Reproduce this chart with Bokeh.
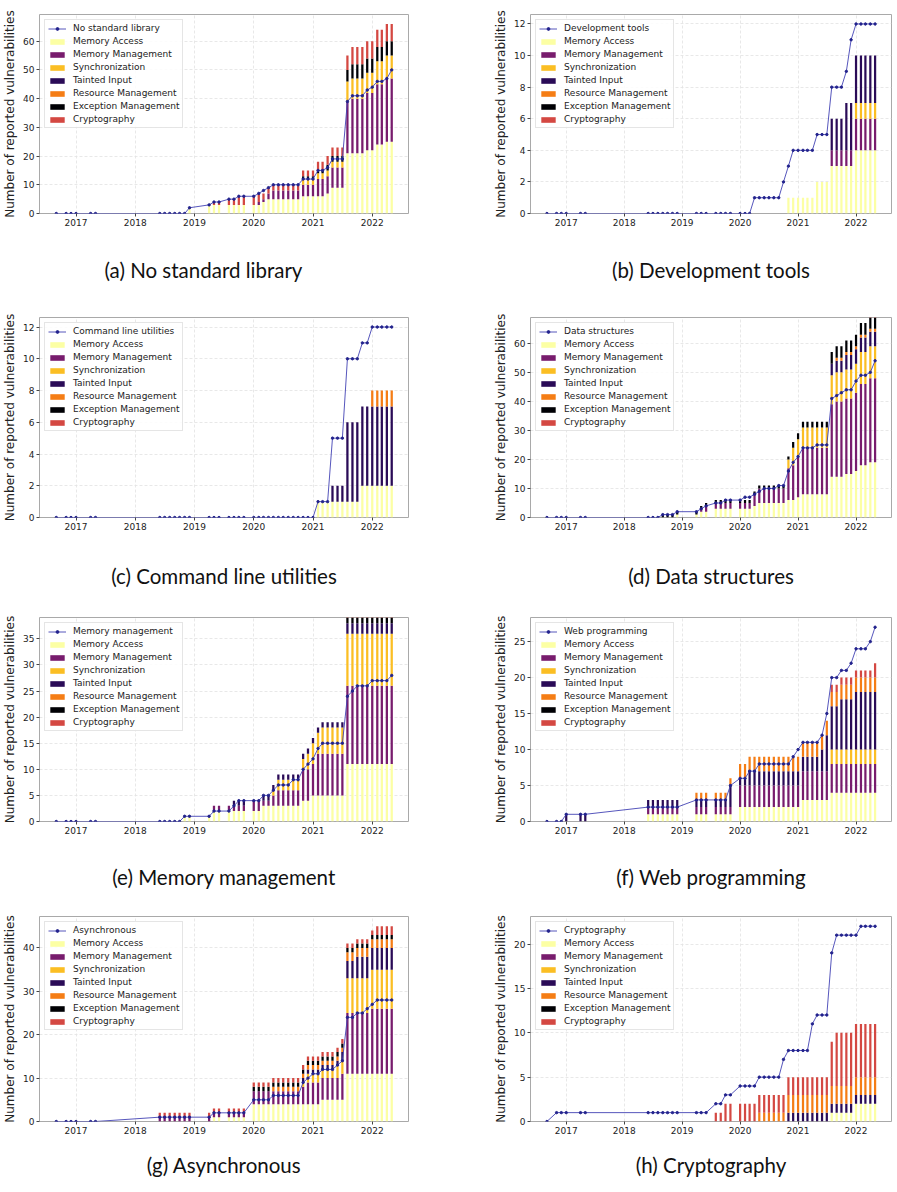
import pandas as pd
from bokeh.plotting import figure
from bokeh.layouts import column, row
from bokeh.models import (Range1d, FixedTicker, SingleIntervalTicker, Legend,
                          LegendItem, ColumnDataSource)
from bokeh.embed import file_html
from bokeh.resources import INLINE

# ---------------- data ----------------
DATES = ["2016-09", "2016-11", "2016-12", "2017-01", "2017-04", "2017-05",
         "2018-06", "2018-07", "2018-08", "2018-09", "2018-10", "2018-11", "2018-12",
         "2019-04", "2019-05", "2019-06", "2019-08", "2019-09", "2019-10", "2019-11",
         "2020-01", "2020-02", "2020-03", "2020-04", "2020-05", "2020-06",
         "2020-07", "2020-08", "2020-09", "2020-10", "2020-11", "2020-12",
         "2021-01", "2021-02", "2021-03", "2021-04", "2021-05", "2021-06",
         "2021-07", "2021-08", "2021-09", "2021-10", "2021-11", "2021-12",
         "2022-01", "2022-02", "2022-03", "2022-04", "2022-05"]
YEAR_TICKS = [2017, 2018, 2019, 2020, 2021, 2022]
CATEGORIES = ["Memory Access", "Memory Management", "Synchronization", "Tainted Input",
              "Resource Management", "Exception Management", "Cryptography"]
COLORS = ["#fcffa4", "#781c6d", "#fbbe23", "#2a0b57", "#f57d15", "#000004", "#d44842"]

# (a) No standard library
A_LINE = [0, 0, 0, 0, 0, 0,  0, 0, 0, 0, 0, 0, 2,  3, 4, 4, 5, 5, 6, 6,
          6, 7, 8, 9, 10, 10, 10, 10, 10, 10, 12, 12,
          12, 15, 15, 16, 19, 19, 19, 39, 41, 41, 41, 43,  44, 46, 46, 47, 50]
A_MA = [0, 0, 0, 0, 0, 0,  0, 0, 0, 0, 0, 0, 2,  3, 3, 3, 3, 3, 3, 3,
        3, 3, 4, 5, 5, 5, 5, 5, 5, 5, 6, 6,
        6, 6, 6, 7, 9, 9, 9, 21, 21, 21, 21, 22,  22, 24, 24, 25, 25]
A_MM = [0, 0, 0, 0, 0, 0,  0, 0, 0, 0, 0, 0, 0,  0, 0, 0, 0, 0, 0, 0,
        0, 1, 1, 2, 3, 3, 3, 3, 3, 3, 4, 4,
        4, 6, 6, 6, 7, 7, 7, 18, 19, 19, 19, 20,  20, 21, 21, 22, 22]
A_SY = [0, 0, 0, 0, 0, 0,  0, 0, 0, 0, 0, 0, 0,  0, 0, 0, 0, 0, 0, 0,
        0, 0, 0, 0, 0, 0, 0, 0, 0, 0, 2, 2,
        2, 2, 2, 2, 2, 2, 2, 7, 7, 7, 7, 7,  7, 8, 8, 8, 8]
A_TI = [0, 0, 0, 0, 0, 0,  0, 0, 0, 0, 0, 0, 0,  0, 0, 0, 0, 0, 0, 0,
        0, 0, 0, 0, 0, 0, 0, 0, 0, 0, 0, 0,
        0, 0, 0, 0, 0, 0, 0, 0, 0, 0, 0, 0,  0, 0, 0, 0, 0]
A_RM = [0, 0, 0, 0, 0, 0,  0, 0, 0, 0, 0, 0, 0,  0, 0, 0, 0, 0, 0, 0,
        0, 0, 0, 0, 0, 0, 0, 0, 0, 0, 0, 0,
        0, 0, 0, 0, 0, 0, 0, 0, 0, 0, 0, 0,  0, 0, 0, 0, 0]
A_EX = [0, 0, 0, 0, 0, 0,  0, 0, 0, 0, 0, 0, 0,  0, 0, 0, 0, 0, 0, 0,
        0, 0, 0, 0, 0, 0, 0, 0, 0, 0, 1, 1,
        1, 1, 1, 2, 2, 2, 2, 4, 5, 5, 5, 5,  5, 5, 5, 5, 5]
A_CR = [0, 0, 0, 0, 0, 0,  0, 0, 0, 0, 0, 0, 0,  0, 1, 1, 2, 2, 3, 3,
        3, 3, 2, 2, 2, 2, 2, 2, 2, 2, 2, 2,
        2, 3, 3, 3, 3, 3, 3, 5, 6, 6, 6, 6,  6, 6, 6, 6, 6]

# (b) Development tools
B_LINE = [0, 0, 0, 0, 0, 0,  0, 0, 0, 0, 0, 0, 0,  0, 0, 0, 0, 0, 0, 0,
          0, 0, 0, 1, 1, 1, 1, 1, 1, 2, 3, 4,
          4, 4, 4, 4, 5, 5, 5, 8, 8, 8, 9, 11,  12, 12, 12, 12, 12]
B_MA = [0, 0, 0, 0, 0, 0,  0, 0, 0, 0, 0, 0, 0,  0, 0, 0, 0, 0, 0, 0,
        0, 0, 0, 0, 0, 0, 0, 0, 0, 0, 1, 1,
        1, 1, 1, 1, 2, 2, 2, 3, 3, 3, 3, 3,  4, 4, 4, 4, 4]
B_MM = [0, 0, 0, 0, 0, 0,  0, 0, 0, 0, 0, 0, 0,  0, 0, 0, 0, 0, 0, 0,
        0, 0, 0, 0, 0, 0, 0, 0, 0, 0, 0, 0,
        0, 0, 0, 0, 0, 0, 0, 1, 1, 1, 1, 1,  2, 2, 2, 2, 2]
B_SY = [0, 0, 0, 0, 0, 0,  0, 0, 0, 0, 0, 0, 0,  0, 0, 0, 0, 0, 0, 0,
        0, 0, 0, 0, 0, 0, 0, 0, 0, 0, 0, 0,
        0, 0, 0, 0, 0, 0, 0, 0, 0, 0, 0, 0,  1, 1, 1, 1, 1]
B_TI = [0, 0, 0, 0, 0, 0,  0, 0, 0, 0, 0, 0, 0,  0, 0, 0, 0, 0, 0, 0,
        0, 0, 0, 0, 0, 0, 0, 0, 0, 0, 0, 0,
        0, 0, 0, 0, 0, 0, 0, 2, 2, 2, 3, 3,  3, 3, 3, 3, 3]
B_RM = [0, 0, 0, 0, 0, 0,  0, 0, 0, 0, 0, 0, 0,  0, 0, 0, 0, 0, 0, 0,
        0, 0, 0, 0, 0, 0, 0, 0, 0, 0, 0, 0,
        0, 0, 0, 0, 0, 0, 0, 0, 0, 0, 0, 0,  0, 0, 0, 0, 0]
B_EX = [0, 0, 0, 0, 0, 0,  0, 0, 0, 0, 0, 0, 0,  0, 0, 0, 0, 0, 0, 0,
        0, 0, 0, 0, 0, 0, 0, 0, 0, 0, 0, 0,
        0, 0, 0, 0, 0, 0, 0, 0, 0, 0, 0, 0,  0, 0, 0, 0, 0]
B_CR = [0, 0, 0, 0, 0, 0,  0, 0, 0, 0, 0, 0, 0,  0, 0, 0, 0, 0, 0, 0,
        0, 0, 0, 0, 0, 0, 0, 0, 0, 0, 0, 0,
        0, 0, 0, 0, 0, 0, 0, 0, 0, 0, 0, 0,  0, 0, 0, 0, 0]

# (c) Command line utilities
C_LINE = [0, 0, 0, 0, 0, 0,  0, 0, 0, 0, 0, 0, 0,  0, 0, 0, 0, 0, 0, 0,
          0, 0, 0, 0, 0, 0, 0, 0, 0, 0, 0, 0,
          0, 1, 1, 1, 5, 5, 5, 10, 10, 10, 11, 11,  12, 12, 12, 12, 12]
C_MA = [0, 0, 0, 0, 0, 0,  0, 0, 0, 0, 0, 0, 0,  0, 0, 0, 0, 0, 0, 0,
        0, 0, 0, 0, 0, 0, 0, 0, 0, 0, 0, 0,
        0, 1, 1, 1, 1, 1, 1, 1, 1, 1, 2, 2,  2, 2, 2, 2, 2]
C_MM = [0, 0, 0, 0, 0, 0,  0, 0, 0, 0, 0, 0, 0,  0, 0, 0, 0, 0, 0, 0,
        0, 0, 0, 0, 0, 0, 0, 0, 0, 0, 0, 0,
        0, 0, 0, 0, 0, 0, 0, 0, 0, 0, 0, 0,  0, 0, 0, 0, 0]
C_SY = [0, 0, 0, 0, 0, 0,  0, 0, 0, 0, 0, 0, 0,  0, 0, 0, 0, 0, 0, 0,
        0, 0, 0, 0, 0, 0, 0, 0, 0, 0, 0, 0,
        0, 0, 0, 0, 0, 0, 0, 0, 0, 0, 0, 0,  0, 0, 0, 0, 0]
C_TI = [0, 0, 0, 0, 0, 0,  0, 0, 0, 0, 0, 0, 0,  0, 0, 0, 0, 0, 0, 0,
        0, 0, 0, 0, 0, 0, 0, 0, 0, 0, 0, 0,
        0, 0, 0, 0, 1, 1, 1, 5, 5, 5, 5, 5,  5, 5, 5, 5, 5]
C_RM = [0, 0, 0, 0, 0, 0,  0, 0, 0, 0, 0, 0, 0,  0, 0, 0, 0, 0, 0, 0,
        0, 0, 0, 0, 0, 0, 0, 0, 0, 0, 0, 0,
        0, 0, 0, 0, 0, 0, 0, 0, 0, 0, 0, 0,  1, 1, 1, 1, 1]
C_EX = [0, 0, 0, 0, 0, 0,  0, 0, 0, 0, 0, 0, 0,  0, 0, 0, 0, 0, 0, 0,
        0, 0, 0, 0, 0, 0, 0, 0, 0, 0, 0, 0,
        0, 0, 0, 0, 0, 0, 0, 0, 0, 0, 0, 0,  0, 0, 0, 0, 0]
C_CR = [0, 0, 0, 0, 0, 0,  0, 0, 0, 0, 0, 0, 0,  0, 0, 0, 0, 0, 0, 0,
        0, 0, 0, 0, 0, 0, 0, 0, 0, 0, 0, 0,
        0, 0, 0, 0, 0, 0, 0, 0, 0, 0, 0, 0,  0, 0, 0, 0, 0]

# (d) Data structures
D_LINE = [0, 0, 0, 0, 0, 0,  0, 0, 0, 1, 1, 1, 2,  2, 3, 4, 5, 5, 6, 6,
          6, 7, 7, 8, 9, 10, 10, 10, 11, 11, 16, 19,
          21, 24, 24, 24, 25, 25, 25, 41, 42, 43, 44, 44,  47, 49, 49, 50, 54]
D_MA = [0, 0, 0, 0, 0, 0,  0, 0, 0, 0, 0, 0, 1,  1, 2, 2, 3, 3, 3, 3,
        3, 3, 3, 4, 5, 5, 5, 5, 5, 5, 6, 6,
        7, 8, 8, 8, 8, 8, 8, 14, 14, 14, 15, 15,  16, 18, 18, 19, 19]
D_MM = [0, 0, 0, 0, 0, 0,  0, 0, 0, 0, 0, 0, 0,  0, 1, 2, 2, 2, 2, 2,
        2, 2, 2, 4, 5, 5, 5, 5, 5, 5, 11, 12,
        14, 16, 16, 16, 16, 16, 16, 25, 26, 26, 26, 26,  27, 28, 28, 29, 29]
D_SY = [0, 0, 0, 0, 0, 0,  0, 0, 0, 0, 0, 0, 0,  0, 0, 0, 0, 0, 0, 0,
        0, 0, 0, 0, 0, 0, 0, 0, 0, 0, 3, 6,
        6, 7, 7, 7, 7, 7, 7, 10, 10, 10, 10, 10,  10, 11, 11, 11, 11]
D_TI = [0, 0, 0, 0, 0, 0,  0, 0, 0, 0, 0, 0, 0,  0, 0, 0, 0, 0, 0, 0,
        0, 0, 0, 0, 0, 0, 0, 0, 0, 0, 0, 0,
        0, 0, 0, 0, 0, 0, 0, 4, 4, 4, 5, 5,  5, 5, 5, 5, 5]
D_RM = [0, 0, 0, 0, 0, 0,  0, 0, 0, 0, 0, 0, 0,  0, 0, 0, 0, 0, 0, 0,
        0, 0, 0, 0, 0, 0, 0, 0, 0, 0, 0, 0,
        0, 0, 0, 0, 0, 0, 0, 0, 1, 1, 1, 1,  1, 1, 1, 1, 1]
D_EX = [0, 0, 0, 0, 0, 0,  0, 0, 0, 1, 1, 1, 1,  1, 1, 1, 1, 1, 1, 1,
        1, 1, 1, 1, 1, 1, 1, 1, 1, 1, 1, 2,
        2, 2, 2, 2, 2, 2, 2, 4, 4, 4, 4, 4,  4, 4, 4, 5, 5]
D_CR = [0, 0, 0, 0, 0, 0,  0, 0, 0, 0, 0, 0, 0,  0, 0, 0, 0, 0, 0, 0,
        0, 0, 0, 0, 0, 0, 0, 0, 0, 0, 0, 0,
        0, 0, 0, 0, 0, 0, 0, 0, 0, 0, 0, 0,  0, 0, 0, 0, 0]

# (e) Memory management
E_LINE = [0, 0, 0, 0, 0, 0,  0, 0, 0, 0, 0, 1, 1,  1, 2, 2, 2, 3, 4, 4,
          4, 4, 5, 5, 6, 7, 7, 7, 8, 8, 10, 11,
          12, 14, 15, 15, 15, 15, 15, 24, 25, 26, 26, 26,  27, 27, 27, 27, 28]
E_MA = [0, 0, 0, 0, 0, 0,  0, 0, 0, 0, 0, 1, 1,  1, 2, 2, 2, 2, 2, 2,
        2, 2, 3, 3, 3, 3, 3, 3, 3, 3, 4, 4,
        5, 5, 5, 5, 5, 5, 5, 11, 11, 11, 11, 11,  11, 11, 11, 11, 11]
E_MM = [0, 0, 0, 0, 0, 0,  0, 0, 0, 0, 0, 0, 0,  0, 1, 1, 1, 1, 1, 1,
        2, 2, 1, 1, 2, 3, 3, 3, 3, 3, 6, 6,
        6, 8, 8, 8, 8, 8, 8, 15, 15, 15, 15, 15,  15, 15, 15, 15, 15]
E_SY = [0, 0, 0, 0, 0, 0,  0, 0, 0, 0, 0, 0, 0,  0, 0, 0, 0, 0, 0, 0,
        0, 0, 0, 0, 1, 2, 2, 2, 2, 2, 2, 3,
        4, 4, 5, 5, 5, 5, 5, 10, 10, 10, 10, 10,  10, 10, 10, 10, 10]
E_TI = [0, 0, 0, 0, 0, 0,  0, 0, 0, 0, 0, 0, 0,  0, 0, 0, 0, 1, 1, 1,
        0, 0, 1, 1, 1, 1, 1, 1, 1, 1, 1, 1,
        1, 1, 1, 1, 1, 1, 1, 2, 2, 2, 2, 2,  2, 2, 2, 2, 2]
E_RM = [0, 0, 0, 0, 0, 0,  0, 0, 0, 0, 0, 0, 0,  0, 0, 0, 0, 0, 0, 0,
        0, 0, 0, 0, 0, 0, 0, 0, 0, 0, 0, 0,
        0, 0, 0, 0, 0, 0, 0, 0, 0, 0, 0, 0,  0, 0, 0, 0, 0]
E_EX = [0, 0, 0, 0, 0, 0,  0, 0, 0, 0, 0, 0, 0,  0, 0, 0, 0, 0, 0, 0,
        0, 0, 0, 0, 0, 0, 0, 0, 0, 0, 0, 0,
        0, 0, 0, 0, 0, 0, 0, 2, 2, 2, 2, 2,  2, 2, 2, 2, 2]
E_CR = [0, 0, 0, 0, 0, 0,  0, 0, 0, 0, 0, 0, 0,  0, 0, 0, 0, 0, 0, 0,
        0, 0, 0, 0, 0, 0, 0, 0, 0, 0, 0, 0,
        0, 0, 0, 0, 0, 0, 0, 0, 0, 0, 0, 0,  0, 0, 0, 0, 0]

# (f) Web programming
F_LINE = [0, 0, 0, 1, 1, 1,  2, 2, 2, 2, 2, 2, 2,  3, 3, 3, 3, 3, 3, 5,
          6, 6, 7, 7, 8, 8, 8, 8, 8, 8, 8, 9,
          10, 11, 11, 11, 11, 12, 15, 20, 20, 21, 21, 22,  24, 24, 24, 25, 27]
F_MA = [0, 0, 0, 0, 0, 0,  1, 1, 1, 1, 1, 1, 1,  1, 1, 1, 1, 1, 1, 1,
        2, 2, 2, 2, 2, 2, 2, 2, 2, 2, 2, 2,
        2, 3, 3, 3, 3, 3, 3, 4, 4, 4, 4, 4,  4, 4, 4, 4, 4]
F_MM = [0, 0, 0, 0, 0, 0,  1, 1, 1, 1, 1, 1, 1,  1, 1, 1, 1, 1, 1, 1,
        3, 3, 3, 3, 3, 3, 3, 3, 3, 3, 3, 3,
        3, 4, 4, 4, 4, 4, 4, 4, 4, 4, 4, 4,  4, 4, 4, 4, 4]
F_SY = [0, 0, 0, 0, 0, 0,  0, 0, 0, 0, 0, 0, 0,  0, 0, 0, 0, 0, 0, 0,
        0, 0, 0, 0, 0, 0, 0, 0, 0, 0, 0, 0,
        0, 0, 0, 0, 0, 0, 0, 2, 2, 2, 2, 2,  2, 2, 2, 2, 2]
F_TI = [0, 0, 0, 1, 1, 1,  1, 1, 1, 1, 1, 1, 1,  1, 1, 1, 1, 1, 1, 3,
        1, 1, 2, 2, 2, 2, 2, 2, 2, 2, 2, 2,
        2, 2, 2, 2, 2, 3, 5, 6, 6, 7, 7, 7,  8, 8, 8, 8, 8]
F_RM = [0, 0, 0, 0, 0, 0,  0, 0, 0, 0, 0, 0, 0,  1, 1, 1, 1, 1, 1, 1,
        2, 2, 2, 2, 2, 2, 2, 2, 2, 2, 2, 2,
        2, 2, 2, 2, 2, 2, 2, 2, 2, 2, 2, 2,  2, 2, 2, 2, 2]
F_EX = [0, 0, 0, 0, 0, 0,  0, 0, 0, 0, 0, 0, 0,  0, 0, 0, 0, 0, 0, 0,
        0, 0, 0, 0, 0, 0, 0, 0, 0, 0, 0, 0,
        0, 0, 0, 0, 0, 0, 0, 0, 0, 0, 0, 0,  0, 0, 0, 0, 0]
F_CR = [0, 0, 0, 0, 0, 0,  0, 0, 0, 0, 0, 0, 0,  0, 0, 0, 0, 0, 0, 0,
        0, 0, 0, 0, 0, 0, 0, 0, 0, 0, 0, 0,
        0, 0, 0, 0, 0, 0, 0, 1, 1, 1, 1, 1,  1, 1, 1, 1, 2]

# (g) Asynchronous
G_LINE = [0, 0, 0, 0, 0, 0,  1, 1, 1, 1, 1, 1, 1,  1, 2, 2, 2, 2, 2, 2,
          5, 5, 5, 5, 6, 6, 6, 6, 6, 6, 9, 10,
          11, 11, 12, 12, 12, 13, 14, 24, 24, 25, 25, 26,  27, 28, 28, 28, 28]
G_MA = [0, 0, 0, 0, 0, 0,  0, 0, 0, 0, 0, 0, 0,  0, 1, 1, 1, 1, 1, 1,
        4, 4, 4, 4, 4, 4, 4, 4, 4, 4, 4, 4,
        4, 4, 5, 5, 5, 5, 5, 11, 11, 11, 11, 11,  11, 11, 11, 11, 11]
G_MM = [0, 0, 0, 0, 0, 0,  1, 1, 1, 1, 1, 1, 1,  1, 1, 1, 1, 1, 1, 1,
        3, 3, 3, 3, 3, 3, 3, 3, 3, 3, 4, 5,
        5, 5, 5, 5, 5, 5, 6, 14, 14, 14, 14, 14,  15, 15, 15, 15, 15]
G_SY = [0, 0, 0, 0, 0, 0,  0, 0, 0, 0, 0, 0, 0,  0, 0, 0, 0, 0, 0, 0,
        0, 0, 0, 0, 0, 0, 0, 0, 0, 0, 1, 2,
        2, 2, 2, 2, 2, 3, 3, 8, 8, 8, 8, 8,  9, 9, 9, 9, 9]
G_TI = [0, 0, 0, 0, 0, 0,  0, 0, 0, 0, 0, 0, 0,  0, 0, 0, 0, 0, 0, 0,
        0, 0, 0, 0, 0, 0, 0, 0, 0, 0, 1, 1,
        1, 1, 1, 1, 1, 1, 2, 4, 4, 5, 5, 5,  5, 5, 5, 5, 5]
G_RM = [0, 0, 0, 0, 0, 0,  0, 0, 0, 0, 0, 0, 0,  0, 0, 0, 0, 0, 0, 0,
        0, 0, 0, 0, 1, 1, 1, 1, 1, 1, 1, 1,
        1, 1, 1, 1, 1, 1, 1, 2, 2, 2, 2, 2,  2, 2, 2, 2, 2]
G_EX = [0, 0, 0, 0, 0, 0,  0, 0, 0, 0, 0, 0, 0,  0, 0, 0, 0, 0, 0, 0,
        1, 1, 1, 1, 1, 1, 1, 1, 1, 1, 1, 1,
        1, 1, 1, 1, 1, 1, 1, 1, 1, 1, 1, 1,  1, 1, 1, 1, 1]
G_CR = [0, 0, 0, 0, 0, 0,  1, 1, 1, 1, 1, 1, 1,  1, 1, 1, 1, 1, 1, 1,
        1, 1, 1, 1, 1, 1, 1, 1, 1, 1, 1, 1,
        1, 1, 1, 1, 1, 1, 1, 1, 1, 1, 1, 1,  1, 2, 2, 2, 2]

# (h) Cryptography
H_LINE = [0, 1, 1, 1, 1, 1,  1, 1, 1, 1, 1, 1, 1,  1, 1, 1, 2, 2, 3, 3,
          4, 4, 4, 4, 5, 5, 5, 5, 5, 7, 8, 8,
          8, 8, 8, 11, 12, 12, 12, 19, 21, 21, 21, 21,  21, 22, 22, 22, 22]
H_MA = [0, 0, 0, 0, 0, 0,  0, 0, 0, 0, 0, 0, 0,  0, 0, 0, 0, 0, 0, 0,
        0, 0, 0, 0, 0, 0, 0, 0, 0, 0, 0, 0,
        0, 0, 0, 0, 0, 0, 0, 1, 1, 1, 1, 1,  2, 2, 2, 2, 2]
H_MM = [0, 0, 0, 0, 0, 0,  0, 0, 0, 0, 0, 0, 0,  0, 0, 0, 0, 0, 0, 0,
        0, 0, 0, 0, 0, 0, 0, 0, 0, 0, 0, 0,
        0, 0, 0, 0, 0, 0, 0, 0, 0, 0, 0, 0,  0, 0, 0, 0, 0]
H_SY = [0, 0, 0, 0, 0, 0,  0, 0, 0, 0, 0, 0, 0,  0, 0, 0, 0, 0, 0, 0,
        0, 0, 0, 0, 0, 0, 0, 0, 0, 0, 0, 0,
        0, 0, 0, 0, 0, 0, 0, 0, 0, 0, 0, 0,  0, 0, 0, 0, 0]
H_TI = [0, 0, 0, 0, 0, 0,  0, 0, 0, 0, 0, 0, 0,  0, 0, 0, 0, 0, 0, 0,
        0, 0, 0, 0, 0, 0, 0, 0, 0, 0, 1, 1,
        1, 1, 1, 1, 1, 1, 1, 1, 1, 1, 1, 1,  1, 1, 1, 1, 1]
H_RM = [0, 0, 0, 0, 0, 0,  0, 0, 0, 0, 0, 0, 0,  0, 0, 0, 0, 0, 0, 0,
        0, 0, 0, 0, 1, 1, 1, 1, 1, 1, 2, 2,
        2, 2, 2, 2, 2, 2, 2, 2, 2, 2, 2, 2,  2, 2, 2, 2, 2]
H_EX = [0, 0, 0, 0, 0, 0,  0, 0, 0, 0, 0, 0, 0,  0, 0, 0, 0, 0, 0, 0,
        0, 0, 0, 0, 0, 0, 0, 0, 0, 0, 0, 0,
        0, 0, 0, 0, 0, 0, 0, 0, 0, 0, 0, 0,  0, 0, 0, 0, 0]
H_CR = [0, 0, 0, 0, 0, 0,  0, 0, 0, 0, 0, 0, 0,  0, 0, 0, 1, 1, 2, 2,
        2, 2, 2, 2, 2, 2, 2, 2, 2, 2, 2, 2,
        2, 2, 2, 2, 2, 2, 2, 5, 6, 6, 6, 6,  6, 6, 6, 6, 6]

NAMES = ["No standard library", "Development tools", "Command line utilities",
         "Data structures", "Memory management", "Web programming",
         "Asynchronous", "Cryptography"]
CAPTIONS = ["(a) No standard library", "(b) Development tools",
            "(c) Command line utilities", "(d) Data structures",
            "(e) Memory management", "(f) Web programming",
            "(g) Asynchronous", "(h) Cryptography"]
LINES = [A_LINE, B_LINE, C_LINE, D_LINE, E_LINE, F_LINE, G_LINE, H_LINE]
BARS = [
    [A_MA, A_MM, A_SY, A_TI, A_RM, A_EX, A_CR],
    [B_MA, B_MM, B_SY, B_TI, B_RM, B_EX, B_CR],
    [C_MA, C_MM, C_SY, C_TI, C_RM, C_EX, C_CR],
    [D_MA, D_MM, D_SY, D_TI, D_RM, D_EX, D_CR],
    [E_MA, E_MM, E_SY, E_TI, E_RM, E_EX, E_CR],
    [F_MA, F_MM, F_SY, F_TI, F_RM, F_EX, F_CR],
    [G_MA, G_MM, G_SY, G_TI, G_RM, G_EX, G_CR],
    [H_MA, H_MM, H_SY, H_TI, H_RM, H_EX, H_CR],
]
Y_TOP = [69.3, 12.6, 12.6, 68.9, 39.1, 28.35, 47.25, 23.1]
Y_STEP = [10, 2, 2, 10, 5, 5, 10, 5]

# ---------------- layout / style ----------------
# columns: (width, left border, right border)
COL_GEOM = [(450, 35, 42), (443, 80, 2)]
# rows: (height, top border, bottom border, caption standoff)
ROW_GEOM = [(296, 14, 83, 29), (304, 21, 83, 31), (292, 17, 71, 28), (296, 24, 67, 16)]
# caption pad (em/en spaces appended) to shift caption (a) leftwards like the reference
CAPTION_PAD = ["\u2003\u2003\u2002", "", "", "", "", "", "", ""]

ts = pd.to_datetime(DATES, format="%Y-%m")
XS = list(ts.year + (ts.dayofyear - 1) / (365 + ts.is_leap_year.astype(int)))
span = max(XS) - min(XS)
X0, X1 = min(XS) - 0.05 * span, max(XS) + 0.05 * span
BAR_W = 14 / 365.25
KEYS = ["c%d" % i for i in range(len(CATEGORIES))]

LINE_COLOR = "#4343b4"
MARK_COLOR = "#22228c"
GRID_COLOR = "#e2e2e2"
TXT = "#222222"


def make_panel(i):
    w, bl, br = COL_GEOM[i % 2]
    h, bt, bb, cap_off = ROW_GEOM[i // 2]
    p = figure(width=w, height=h, output_backend="svg", toolbar_location=None,
               x_range=Range1d(X0, X1), y_range=Range1d(0, Y_TOP[i]),
               min_border_left=bl, min_border_right=br,
               min_border_top=bt, min_border_bottom=bb,
               background_fill_color="white", border_fill_color="white")
    p.outline_line_color = "#a9a9a9"
    p.outline_line_width = 1

    data = {"x": XS}
    for k, vals in zip(KEYS, BARS[i]):
        data[k] = vals
    src = ColumnDataSource(data)
    bar_rs = p.vbar_stack(KEYS, x="x", width=BAR_W, color=COLORS,
                          line_color=None, source=src)
    lr = p.line(XS, LINES[i], line_color=LINE_COLOR, line_width=0.9)
    sr = p.scatter(XS, LINES[i], size=2.4, fill_color=MARK_COLOR,
                   line_color=MARK_COLOR)

    items = [LegendItem(label=NAMES[i], renderers=[lr, sr])]
    for cat, r in zip(CATEGORIES, bar_rs):
        items.append(LegendItem(label=cat, renderers=[r]))
    leg = Legend(items=items, location="top_left", margin=5, padding=3,
                 spacing=3, glyph_width=18, glyph_height=7, label_height=10,
                 label_standoff=7, label_text_font="DejaVu Sans",
                 label_text_font_size="9px", label_text_color=TXT,
                 border_line_color="#cccccc", border_line_width=1,
                 background_fill_color="white", background_fill_alpha=0.85)
    p.add_layout(leg)

    # x axis with caption as label
    xa = p.xaxis[0]
    xa.ticker = FixedTicker(ticks=YEAR_TICKS)
    xa.major_label_overrides = {y: str(y) for y in YEAR_TICKS}
    xa.axis_label = CAPTIONS[i] + CAPTION_PAD[i]
    xa.axis_label_text_font = "Lato"
    xa.axis_label_text_font_size = "20.5px"
    xa.axis_label_text_font_style = "normal"
    xa.axis_label_text_color = "#111111"
    xa.axis_label_standoff = cap_off
    # y axis
    ya = p.yaxis[0]
    ya.ticker = SingleIntervalTicker(interval=Y_STEP[i], num_minor_ticks=0)
    ya.axis_label = "Number of reported vulnerabilities"
    ya.axis_label_text_font = "DejaVu Sans"
    ya.axis_label_text_font_size = "12px"
    ya.axis_label_text_font_style = "normal"
    ya.axis_label_text_color = TXT
    ya.axis_label_standoff = 3
    for ax in (xa, ya):
        ax.axis_line_color = None
        ax.major_tick_out = 3
        ax.major_tick_in = 0
        ax.major_tick_line_color = "#444444"
        ax.minor_tick_line_color = None
        ax.major_label_standoff = 2
        ax.major_label_text_font = "DejaVu Sans"
        ax.major_label_text_font_size = "9px"
        ax.major_label_text_color = TXT

    p.xgrid.ticker = FixedTicker(ticks=YEAR_TICKS)
    for g in (p.xgrid[0], p.ygrid[0]):
        g.grid_line_color = GRID_COLOR
        g.grid_line_dash = "3 2"
        g.grid_line_width = 0.8
    return p


panels = [make_panel(i) for i in range(8)]
layout = column(row(panels[0], panels[1]), row(panels[2], panels[3]),
                row(panels[4], panels[5]), row(panels[6], panels[7]))

open("out.html", "w").write(file_html(layout, INLINE))
